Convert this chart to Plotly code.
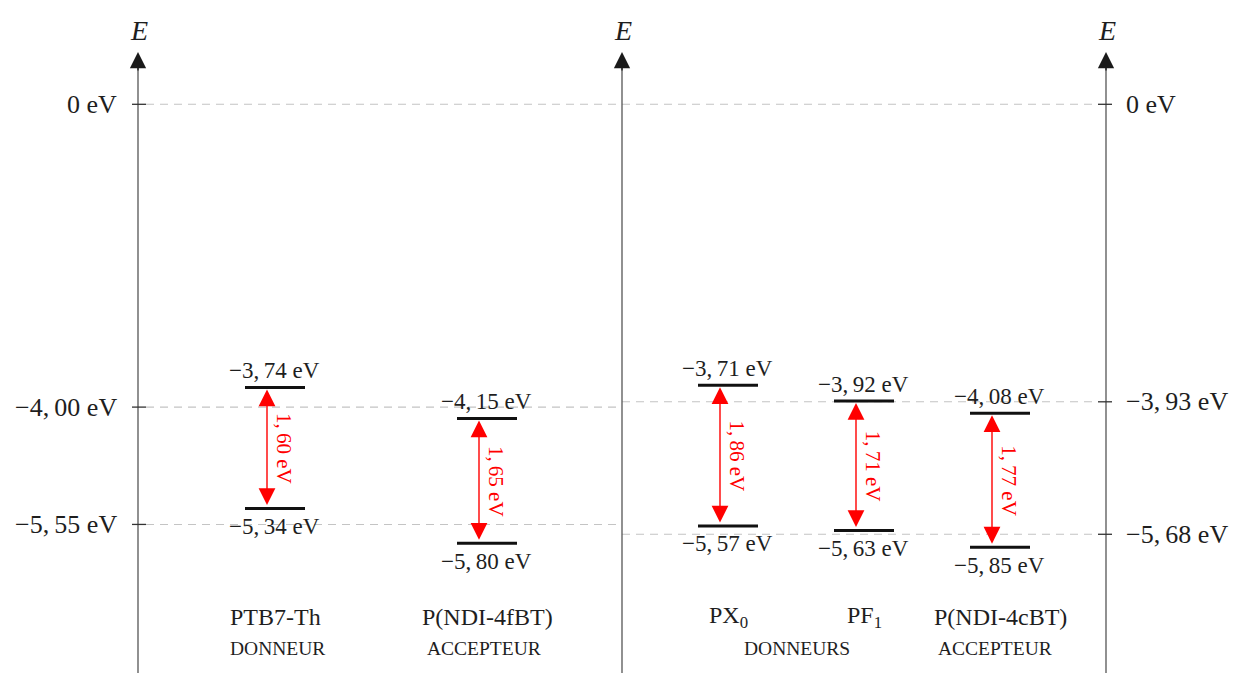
import plotly.graph_objects as go

# ---------------- data ----------------
materials = ["PTB7-Th", "P(NDI-4fBT)", "PX<sub>0</sub>", "PF<sub>1</sub>", "P(NDI-4cBT)"]
lumo = [-3.74, -4.15, -3.71, -3.92, -4.08]
homo = [-5.34, -5.80, -5.57, -5.63, -5.85]
gap = [1.60, 1.65, 1.86, 1.71, 1.77]
left_ticks = [0.0, -4.00, -5.55]
right_ticks = [0.0, -3.93, -5.68]
role_labels = ["DONNEUR", "ACCEPTEUR", "DONNEURS", "ACCEPTEUR"]

# ---------------- layout positions (pixels) ----------------
W, H = 1236, 673
Y0PX, PXPEV = 104.3, 75.7          # pixel row of 0 eV, pixels per eV
axis_x = [138, 622, 1106]
bar_x = [275, 487, 728, 864, 1000]
arrow_dx = -8
role_x = [277, 484, 797, 995]
HALF = 30
FONT = "Liberation Serif"
TXT = "#1e1e1e"


def e_of(px):
    return -(px - Y0PX) / PXPEV


def fmt(v):
    s = f"{v:.2f}".replace("-", "\u2212").replace(".", ",\u2009")
    return s + " eV"


fig = go.Figure()
ann = []
shapes = []

# dashed reference lines
dash = dict(color="#c4c4c4", width=1.1, dash="8px,6px")
shapes.append(dict(type="line", xref="x", yref="y", x0=axis_x[0] + 8, x1=axis_x[2] - 8,
                   y0=0, y1=0, line=dash, layer="below"))
for t in left_ticks[1:]:
    shapes.append(dict(type="line", xref="x", yref="y", x0=axis_x[0] + 8, x1=axis_x[1],
                       y0=t, y1=t, line=dash, layer="below"))
for t in right_ticks[1:]:
    shapes.append(dict(type="line", xref="x", yref="y", x0=axis_x[1], x1=axis_x[2] - 8,
                       y0=t, y1=t, line=dash, layer="below"))

# vertical energy axes
for ax in axis_x:
    shapes.append(dict(type="line", xref="x", yref="y", x0=ax, x1=ax,
                       y0=e_of(66), y1=e_of(H + 5), line=dict(color="#555", width=1.3)))
    ann.append(dict(x=ax, y=e_of(52), ax=ax, ay=e_of(72), xref="x", yref="y",
                    axref="x", ayref="y", text="", showarrow=True, arrowhead=2,
                    arrowsize=2.5, arrowwidth=1.3, arrowcolor="#1a1a1a", standoff=0))
    ann.append(dict(x=ax + 1, y=e_of(30), xref="x", yref="y", text="<i>E</i>",
                    showarrow=False, font=dict(family=FONT, size=28, color=TXT)))

# ticks
for t in left_ticks:
    shapes.append(dict(type="line", xref="x", yref="y", x0=axis_x[0] - 6, x1=axis_x[0] + 8,
                       y0=t, y1=t, line=dict(color="#333", width=1.3)))
    txt = "0 eV" if t == 0 else fmt(t)
    ann.append(dict(x=axis_x[0] - 19, y=t, xref="x", yref="y", text=txt, showarrow=False,
                    xanchor="right", yanchor="middle",
                    font=dict(family=FONT, size=26, color=TXT)))
for t in right_ticks:
    shapes.append(dict(type="line", xref="x", yref="y", x0=axis_x[2] - 8, x1=axis_x[2] + 6,
                       y0=t, y1=t, line=dict(color="#333", width=1.3)))
    txt = "0 eV" if t == 0 else fmt(t)
    ann.append(dict(x=axis_x[2] + 18, y=t, xref="x", yref="y", text=txt, showarrow=False,
                    xanchor="left", yanchor="middle",
                    font=dict(family=FONT, size=26, color=TXT)))

# energy levels
for i, name in enumerate(materials):
    cx = bar_x[i]
    for lvl, off in ((lumo[i], -17), (homo[i], 18)):
        fig.add_trace(go.Scatter(x=[cx - HALF, cx + HALF], y=[lvl, lvl], mode="lines",
                                 line=dict(color="#111", width=3), hoverinfo="skip",
                                 showlegend=False))
        ann.append(dict(x=cx - 1, y=lvl, xref="x", yref="y", text=fmt(lvl), showarrow=False,
                        yshift=-off, font=dict(family=FONT, size=23, color=TXT)))
    axx = cx + arrow_dx
    ann.append(dict(x=axx, y=lumo[i], ax=axx, ay=homo[i], xref="x", yref="y",
                    axref="x", ayref="y", text="", showarrow=True, arrowside="end+start",
                    arrowhead=2, startarrowhead=2, arrowsize=2.4, startarrowsize=2.4,
                    arrowwidth=1.4, arrowcolor="#ff0000", standoff=2, startstandoff=2))
    ann.append(dict(x=axx + 17, y=(lumo[i] + homo[i]) / 2, xref="x", yref="y",
                    text=fmt(gap[i]), textangle=90, showarrow=False,
                    font=dict(family=FONT, size=21, color="#ff0000")))
    ann.append(dict(x=cx, y=e_of(617), xref="x", yref="y", text=name, showarrow=False,
                    font=dict(family=FONT, size=24, color=TXT)))

for i, r in enumerate(role_labels):
    ann.append(dict(x=role_x[i], y=e_of(648), xref="x", yref="y", text=r, showarrow=False,
                    font=dict(family=FONT, size=19.5, color=TXT)))

fig.update_layout(
    width=W, height=H, margin=dict(l=0, r=0, t=0, b=0),
    paper_bgcolor="white", plot_bgcolor="white",
    xaxis=dict(range=[0, W], visible=False, fixedrange=True),
    yaxis=dict(range=[e_of(H), e_of(0)], visible=False, fixedrange=True),
    shapes=shapes, annotations=ann, showlegend=False,
)
fig.write_html("out.html", config={"displayModeBar": False},
               post_script="document.body.style.margin='0';document.body.style.overflow='hidden';")
